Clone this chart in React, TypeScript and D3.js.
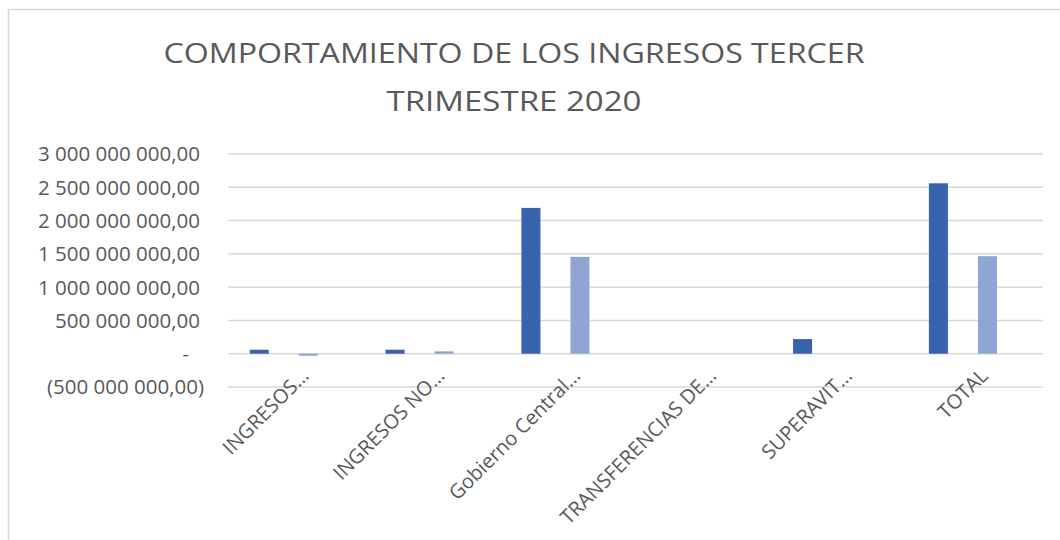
import React from "react";
import * as d3 from "d3";

const categories = [
  "INGRESOS…",
  "INGRESOS NO…",
  "Gobierno Central…",
  "TRANSFERENCIAS DE…",
  "SUPERAVIT…",
  "TOTAL",
];
const seriesNames = ["Serie 1", "Serie 2"];
const serie1 = [60000000, 60000000, 2190000000, 0, 220000000, 2560000000];
const serie2 = [-30000000, 35000000, 1455000000, 0, 0, 1465000000];
const yTicks = [-500000000, 0, 500000000, 1000000000, 1500000000, 2000000000, 2500000000, 3000000000];
const titleLines = ["COMPORTAMIENTO DE LOS INGRESOS TERCER", "TRIMESTRE 2020"];

const colors = ["#3A63AD", "#8FA5D6"];
const textColor = "#595959";
const gridColor = "#D9D9D9";
const font = "'Open Sans', sans-serif";

function fmt(v: number): string {
  if (v === 0) return "-";
  const abs = Math.abs(v);
  const intPart = Math.floor(abs).toString().replace(/\B(?=(\d{3})+(?!\d))/g, " ");
  const s = intPart + ",00";
  return v < 0 ? "(" + s + ")" : s;
}

export default function App() {
  const W = 1060;
  const H = 540;
  const left = 228;
  const right = 1043;
  const x0 = d3.scaleBand<string>().domain(categories).range([left, right]).paddingInner(0).paddingOuter(0);
  const bw = x0.bandwidth();
  const x1 = d3
    .scaleBand<string>()
    .domain(seriesNames)
    .range([0.16 * bw, 0.661 * bw])
    .paddingInner(0.612)
    .paddingOuter(0);
  const y = d3.scaleLinear().domain([-500000000, 3000000000]).range([387, 154]);
  const data = [serie1, serie2];
  const titleWidths = [701, 255];

  return (
    <svg
      width={W}
      height={H}
      style={{ position: "absolute", left: 0, top: 0, background: "#fff" }}
    >
      <rect x={0} y={0} width={W} height={H} fill="#fff" />
      <rect x={8.5} y={9.5} width={1200} height={700} fill="none" stroke={gridColor} strokeWidth={1.5} />
      {titleLines.map((t, i) => (
        <text
          key={i}
          x={514}
          y={i === 0 ? 63 : 111}
          textAnchor="middle"
          fontFamily={font}
          fontSize={28}
          fill={textColor}
          textLength={titleWidths[i]}
          lengthAdjust="spacingAndGlyphs"
        >
          {t}
        </text>
      ))}
      {yTicks.map((t) => (
        <g key={t}>
          <line x1={left} x2={right} y1={y(t)} y2={y(t)} stroke={gridColor} strokeWidth={1.5} />
          <text
            x={t === 0 ? 189 : t < 0 ? 204 : 200}
            y={y(t)}
            dy="0.36em"
            textAnchor="end"
            fontFamily={font}
            fontSize={20.5}
            fill={textColor}
          >
            {fmt(t)}
          </text>
        </g>
      ))}
      {data.map((vals, si) =>
        vals.map((v, ci) => {
          if (v === 0) return null;
          const xx = (x0(categories[ci]) as number) + (x1(seriesNames[si]) as number);
          const y0 = y(0);
          const yv = y(v);
          return (
            <rect
              key={si + "-" + ci}
              x={xx}
              y={Math.min(y0, yv)}
              width={x1.bandwidth()}
              height={Math.abs(yv - y0)}
              fill={colors[si]}
            />
          );
        })
      )}
      {categories.map((c) => {
        const cx = (x0(c) as number) + bw / 2;
        return (
          <text
            key={c}
            transform={`translate(${cx + 14},${377}) rotate(-45)`}
            textAnchor="end"
            fontFamily={font}
            fontSize={20}
            fill={textColor}
          >
            {c}
          </text>
        );
      })}
    </svg>
  );
}
